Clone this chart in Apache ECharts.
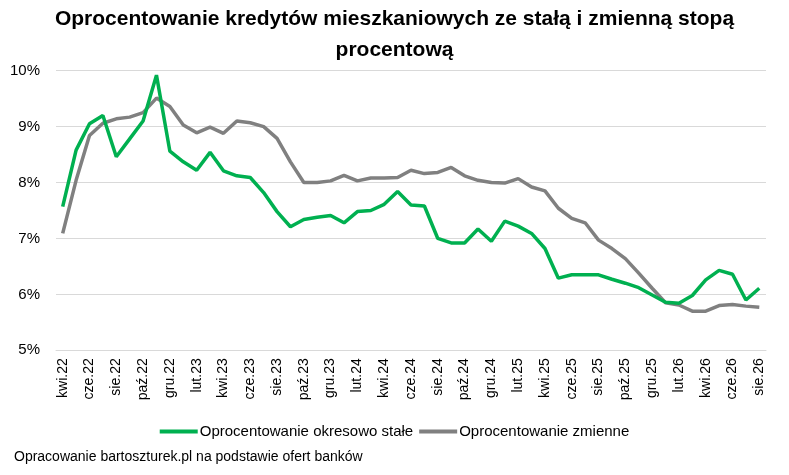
<!DOCTYPE html>
<html>
<head>
<meta charset="utf-8">
<title>Oprocentowanie kredytów mieszkaniowych</title>
<script src="https://cdn.jsdelivr.net/npm/echarts@6/dist/echarts.min.js"></script>
<style>
    html, body { margin: 0; padding: 0; background: #fff; }
    #main { width: 789px; height: 475px; }
</style>
</head>
<body>
<div id="main"></div>
<script>
// miesiące od kwi.22 do sie.26
var months = ['sty', 'lut', 'mar', 'kwi', 'maj', 'cze', 'lip', 'sie', 'wrz', 'paź', 'lis', 'gru'];
var categories = [];
for (var y = 22; y <= 26; y++) {
    for (var m = 0; m < 12; m++) {
        if (y === 22 && m < 3) continue;
        if (y === 26 && m > 7) continue;
        categories.push(months[m] + '.' + y);
    }
}

// oprocentowanie okresowo stałe (%)
var fixedRate = [
    7.57, 8.58, 9.05, 9.20, 8.46, 8.78, 9.10, 9.92, 8.56, 8.37,
    8.22, 8.54, 8.21, 8.12, 8.09, 7.82, 7.48, 7.21, 7.34, 7.38,
    7.41, 7.28, 7.48, 7.50, 7.61, 7.84, 7.60, 7.58, 7.00, 6.92,
    6.92, 7.17, 6.95, 7.31, 7.22, 7.09, 6.82, 6.29, 6.35, 6.35,
    6.35, 6.27, 6.20, 6.12, 5.99, 5.86, 5.84, 5.98, 6.26, 6.43,
    6.36, 5.90, 6.11
];

// oprocentowanie zmienne (%)
var variableRate = [
    7.09, 8.04, 8.84, 9.06, 9.14, 9.17, 9.25, 9.51, 9.36, 9.03,
    8.89, 8.99, 8.88, 9.10, 9.07, 9.00, 8.79, 8.37, 8.00, 8.00,
    8.03, 8.13, 8.03, 8.08, 8.08, 8.09, 8.22, 8.16, 8.18, 8.27,
    8.12, 8.04, 8.00, 7.99, 8.07, 7.92, 7.85, 7.54, 7.36, 7.28,
    6.97, 6.82, 6.64, 6.38, 6.11, 5.85, 5.81, 5.70, 5.70, 5.80,
    5.82, 5.79, 5.77
];

var titleStyle = {
    fontFamily: 'Liberation Sans',
    fontWeight: 'bold',
    fontSize: 21,
    color: '#000'
};

var myChart = echarts.init(document.getElementById('main'));

myChart.setOption({
    animation: false,
    textStyle: { fontFamily: 'Liberation Sans, sans-serif' },
    title: [{
        text: 'Oprocentowanie kredytów mieszkaniowych ze stałą i zmienną stopą',
        left: 'center',
        top: 4,
        textStyle: titleStyle
    }, {
        text: 'procentową',
        left: 'center',
        top: 35,
        textStyle: titleStyle
    }],
    graphic: [{
        type: 'text',
        left: 14,
        top: 450,
        style: {
            text: 'Opracowanie bartoszturek.pl na podstawie ofert banków',
            fontFamily: 'Liberation Sans',
            fontSize: 14,
            fill: '#000'
        }
    }],
    legend: {
        bottom: 31,
        left: 'center',
        itemWidth: 38,
        itemHeight: 4,
        itemGap: 6,
        icon: 'rect',
        textStyle: {
            fontSize: 15,
            color: '#000',
            padding: [0, 0, 0, -3]
        },
        data: ['Oprocentowanie okresowo stałe', 'Oprocentowanie zmienne']
    },
    grid: {
        left: 56,
        right: 23,
        top: 70.7,
        bottom: 124.7
    },
    xAxis: {
        type: 'category',
        data: categories,
        boundaryGap: true,
        axisLine: { lineStyle: { color: '#d9d9d9', width: 1 } },
        axisTick: { interval: 1, length: 5, lineStyle: { color: '#d9d9d9' } },
        axisLabel: {
            interval: 1,
            rotate: 90,
            margin: 8,
            fontSize: 14,
            color: '#000'
        }
    },
    yAxis: {
        type: 'value',
        min: 5,
        max: 10,
        interval: 1,
        axisLine: { show: false },
        axisTick: { show: false },
        axisLabel: {
            formatter: '{value}%',
            fontSize: 15,
            margin: 16,
            color: '#000'
        },
        splitLine: { lineStyle: { color: '#d9d9d9', width: 1 } }
    },
    series: [{
        name: 'Oprocentowanie okresowo stałe',
        type: 'line',
        data: fixedRate,
        symbol: 'none',
        z: 3,
        lineStyle: { color: '#00B050', width: 3.5 },
        itemStyle: { color: '#00B050' }
    }, {
        name: 'Oprocentowanie zmienne',
        type: 'line',
        data: variableRate,
        symbol: 'none',
        z: 2,
        lineStyle: { color: '#808080', width: 3.5 },
        itemStyle: { color: '#808080' }
    }]
});
</script>
</body>
</html>
